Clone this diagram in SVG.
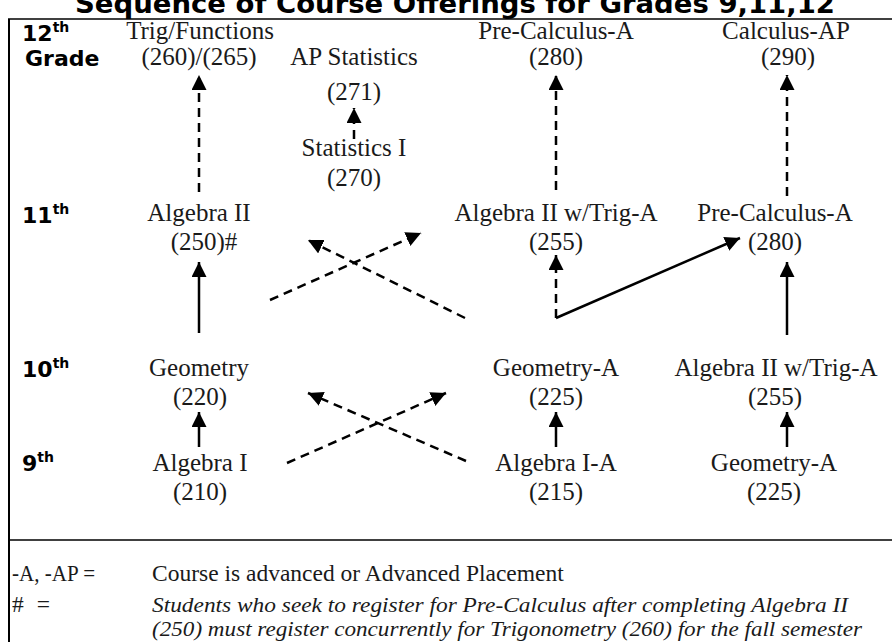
<svg xmlns="http://www.w3.org/2000/svg" width="892" height="642" viewBox="0 0 892 642">
<defs>
<marker id="ah" markerUnits="userSpaceOnUse" markerWidth="16" markerHeight="16" refX="15" refY="7.5" orient="auto">
<path d="M0,0 L15,7.5 L0,15 z" fill="#000"/>
</marker>
<style>
.t{font-family:"Liberation Serif","Times New Roman",serif;font-size:25px;fill:#1a1a1a;text-anchor:middle}
.g{font-family:"DejaVu Sans",Verdana,sans-serif;font-weight:bold;font-size:22px;fill:#000}
.sup{font-size:14px}
.l{font-family:"Liberation Serif","Times New Roman",serif;font-size:23.5px;fill:#1a1a1a}
.li{font-style:italic;font-size:22px}
.s{stroke:#000;stroke-width:2.5;fill:none;marker-end:url(#ah)}
.d{stroke:#000;stroke-width:2.5;fill:none;stroke-dasharray:9 6;marker-end:url(#ah)}
</style>
</defs>
<rect width="892" height="642" fill="#fff"/>
<text x="455" y="13" font-family="DejaVu Sans,Verdana,sans-serif" font-weight="bold" font-size="26" text-anchor="middle" textLength="760" lengthAdjust="spacingAndGlyphs">Sequence of Course Offerings for Grades 9,11,12</text>
<g id="frame" stroke="#000" fill="none">
<line x1="9" y1="19" x2="9" y2="642" stroke-width="2"/>
<line x1="8" y1="19" x2="892" y2="19" stroke-width="1.5"/>
<line x1="9" y1="540" x2="892" y2="540" stroke-width="1.5"/>
</g>
<g id="grades">
<text class="g" x="22" y="41">12<tspan class="sup" dy="-9">th</tspan></text>
<text class="g" x="25" y="66">Grade</text>
<text class="g" x="22" y="223">11<tspan class="sup" dy="-9">th</tspan></text>
<text class="g" x="22" y="377">10<tspan class="sup" dy="-9">th</tspan></text>
<text class="g" x="22" y="471">9<tspan class="sup" dy="-9">th</tspan></text>
</g>
<g id="n-trig"><text class="t" x="200" y="39">Trig/Functions</text><text class="t" x="199" y="65">(260)/(265)</text></g>
<g id="n-apstat"><text class="t" x="354" y="65">AP Statistics</text><text class="t" x="354" y="100">(271)</text></g>
<g id="n-stat1"><text class="t" x="354" y="156">Statistics I</text><text class="t" x="354" y="186">(270)</text></g>
<g id="n-precalc12"><text class="t" x="556" y="39">Pre-Calculus-A</text><text class="t" x="556" y="65">(280)</text></g>
<g id="n-calcap"><text class="t" x="786" y="39">Calculus-AP</text><text class="t" x="788" y="65">(290)</text></g>
<g id="n-alg2"><text class="t" x="199" y="221">Algebra II</text><text class="t" x="204" y="250">(250)#</text></g>
<g id="n-alg2trig11"><text class="t" x="556" y="221">Algebra II w/Trig-A</text><text class="t" x="556" y="250">(255)</text></g>
<g id="n-precalc11"><text class="t" x="775" y="221">Pre-Calculus-A</text><text class="t" x="775" y="250">(280)</text></g>
<g id="n-geom"><text class="t" x="199" y="376">Geometry</text><text class="t" x="200" y="405">(220)</text></g>
<g id="n-geomA10"><text class="t" x="556" y="376">Geometry-A</text><text class="t" x="556" y="405">(225)</text></g>
<g id="n-alg2trig10"><text class="t" x="776" y="376">Algebra II w/Trig-A</text><text class="t" x="775" y="405">(255)</text></g>
<g id="n-alg1"><text class="t" x="200" y="471">Algebra I</text><text class="t" x="200" y="500">(210)</text></g>
<g id="n-alg1A"><text class="t" x="556" y="471">Algebra I-A</text><text class="t" x="556" y="500">(215)</text></g>
<g id="n-geomA9"><text class="t" x="774" y="471">Geometry-A</text><text class="t" x="774" y="500">(225)</text></g>
<g id="connectors">
<line class="d" x1="199" y1="192" x2="199" y2="75"/>
<line class="d" x1="354" y1="139" x2="354" y2="108"/>
<line class="d" x1="556" y1="190" x2="556" y2="75"/>
<line class="d" x1="787" y1="196" x2="787" y2="75"/>
<line class="s" x1="199" y1="333" x2="199" y2="262"/>
<line class="d" x1="270" y1="300" x2="421" y2="233"/>
<line class="d" x1="465" y1="318" x2="308" y2="240"/>
<line class="d" x1="556" y1="318" x2="556" y2="255"/>
<line class="s" x1="556" y1="318" x2="740" y2="238"/>
<line class="s" x1="787" y1="335" x2="787" y2="262"/>
<line class="s" x1="199" y1="447" x2="199" y2="412"/>
<line class="d" x1="287" y1="463" x2="446" y2="393"/>
<line class="d" x1="466" y1="461" x2="308" y2="393"/>
<line class="s" x1="556" y1="447" x2="556" y2="412"/>
<line class="s" x1="787" y1="447" x2="787" y2="412"/>
</g>
<g id="legend">
<text class="l" x="12" y="581" textLength="83" lengthAdjust="spacingAndGlyphs">-A,  -AP =</text>
<text class="l" x="152" y="581">Course is advanced or Advanced Placement</text>
<text class="l" x="12" y="612" textLength="38" lengthAdjust="spacing">#  =</text>
<text class="l li" x="152" y="612" textLength="696" lengthAdjust="spacingAndGlyphs">Students who seek to register for Pre-Calculus after completing Algebra II</text>
<text class="l li" x="152" y="636" textLength="710" lengthAdjust="spacingAndGlyphs">(250) must register concurrently for Trigonometry (260) for the fall semester</text>
</g>
</svg>
